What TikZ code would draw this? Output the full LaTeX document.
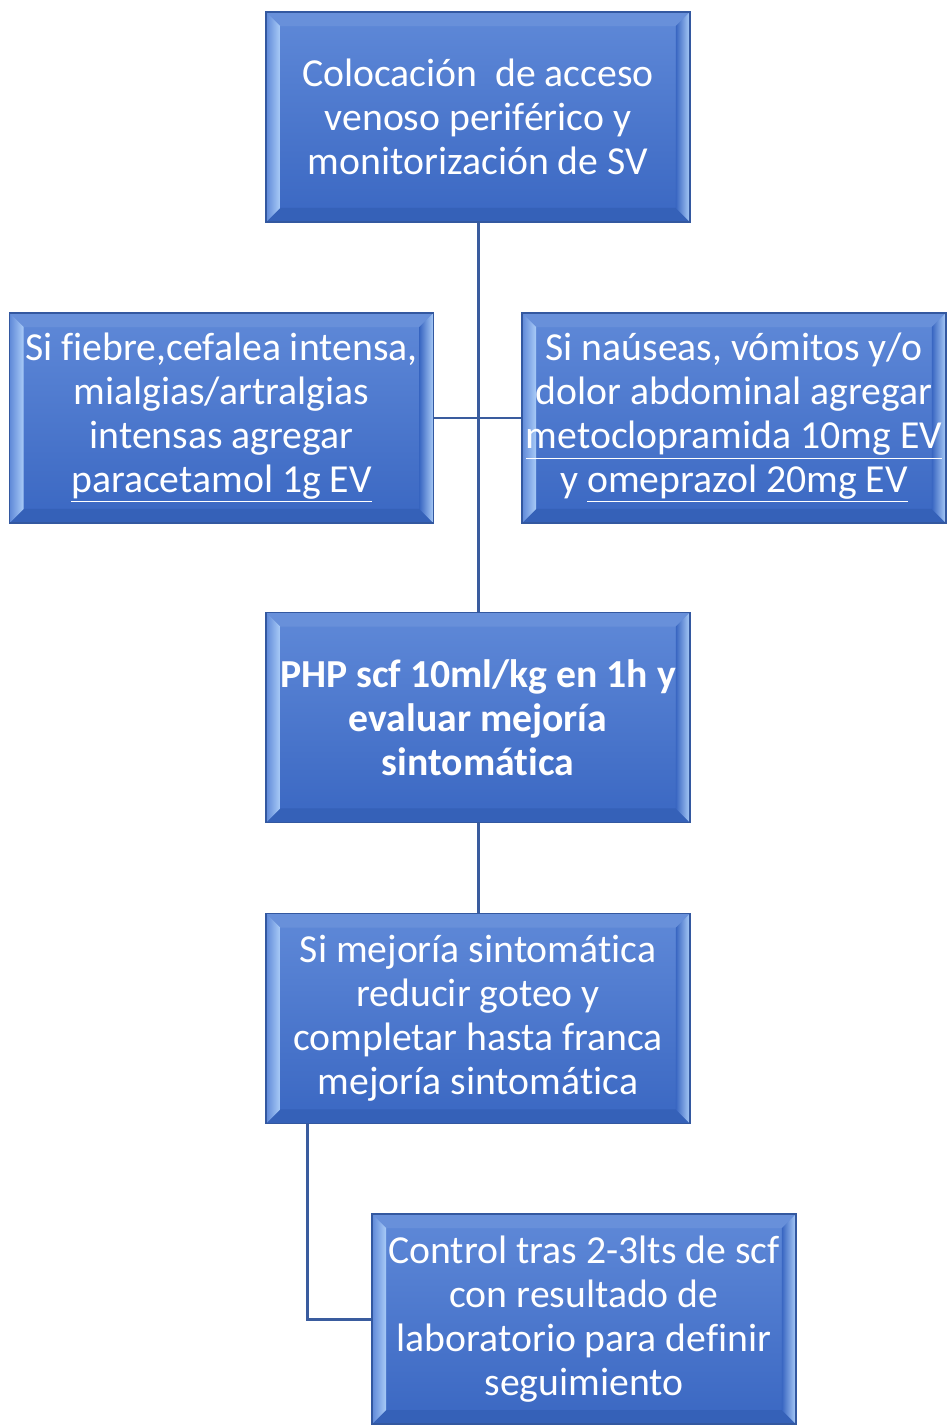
\documentclass[tikz,border=0pt]{standalone}
\usepackage{fontspec}
\setmainfont{Carlito}[Ligatures=CommonOff]
\usepackage{xcolor}
\usepackage{tikz}
\usetikzlibrary{calc, positioning}

\definecolor{boxtop}{HTML}{5F89D8}
\definecolor{boxbot}{HTML}{3A67C2}
\definecolor{boxedge}{HTML}{3358A0}
\definecolor{bevlight}{HTML}{A9CBF7}
\definecolor{bevtop}{HTML}{6890DA}
\definecolor{bevbot}{HTML}{3561B8}
\definecolor{linkcol}{HTML}{3A5C9E}

\begin{document}
\begin{tikzpicture}[x=0.02cm, y=-0.02cm, font=\fontsize{22.6}{25}\selectfont\color{white}]
	\tikzstyle{bevel} = [path picture={
		\coordinate (nw) at (path picture bounding box.north west);
		\coordinate (ne) at (path picture bounding box.north east);
		\coordinate (sw) at (path picture bounding box.south west);
		\coordinate (se) at (path picture bounding box.south east);
		\fill[bevtop] (nw) -- (ne) -- ++(-0.28cm,-0.28cm) -- ($(nw)+(0.28cm,-0.28cm)$) -- cycle;
		\fill[bevbot] (sw) -- (se) -- ++(-0.28cm,0.28cm) -- ($(sw)+(0.28cm,0.28cm)$) -- cycle;
		\shade[left color=boxtop, right color=bevlight] (nw) -- ++(0.28cm,-0.28cm) -- ($(sw)+(0.28cm,0.28cm)$) -- (sw) -- cycle;
		\shade[left color=boxbot, right color=bevlight] (ne) -- ++(-0.28cm,-0.28cm) -- ($(se)+(-0.28cm,0.28cm)$) -- (se) -- cycle;
	}]
	\tikzstyle{stepbox} = [draw=boxedge, line width=0.9pt, rectangle, top color=boxtop, bottom color=boxbot,
		minimum width=8.48cm, minimum height=4.2cm, inner sep=0pt, align=center, bevel]
	\tikzstyle{link} = [draw=linkcol, line width=1.7pt]
	\newcommand{\subr}[1]{\underline{\smash{#1}\vphantom{g}}}

	\useasboundingbox (0,0) rectangle (949,1426);

	\node[stepbox]	at (478, 117)	(acceso)	{Colocación~ de acceso\\venoso periférico y\\monitorización de SV};
	\node[stepbox]	at (221.5, 418)	(fiebre)	{Si fiebre,cefalea intensa,\\mialgias/artralgias\\intensas agregar\\\subr{paracetamol 1g EV}};
	\node[stepbox]	at (734, 418)	(nauseas)	{Si naúseas, vómitos y/o\\dolor abdominal agregar\\\subr{metoclopramida 10mg EV}\\y \subr{omeprazol 20mg EV}};
	\node[stepbox]	at (478, 717.5)	(php)	{\bfseries PHP scf 10ml/kg en 1h y\\\bfseries evaluar mejoría\\\bfseries sintomática};
	\node[stepbox]	at (478, 1018.5)	(mejoria)	{Si mejoría sintomática\\reducir goteo y\\completar hasta franca\\mejoría sintomática};
	\node[stepbox]	at (584, 1319)	(control)	{Control tras 2-3lts de scf\\con resultado de\\laboratorio para definir\\seguimiento};

	\coordinate (bajada) at ($(mejoria.south west)!0.1!(mejoria.south east)$);

	\path[link]
	(acceso) -- (php)
	(fiebre.east) -- (nauseas.west)
	(php) -- (mejoria)
	(bajada) |- (control.west);

\end{tikzpicture}
\end{document}
